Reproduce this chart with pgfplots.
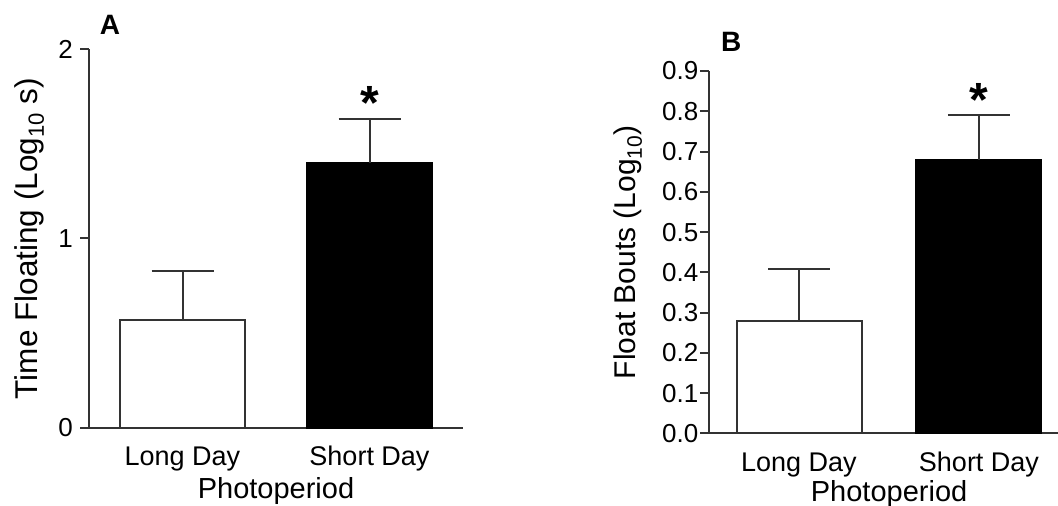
\documentclass[border=0pt]{standalone}
\usepackage{pgfplots}
\pgfplotsset{compat=1.18}
\usepackage{fontspec}
\setmainfont{Liberation Sans}
\definecolor{axgray}{HTML}{333333}

\pgfplotsset{
  panel/.style={
    scale only axis, clip=false,
    axis lines=left,
    axis line style={-, axgray, line width=2pt},
    ytick align=outside, xtick align=inside,
    major tick length=9pt,
    ytick style={axgray, line width=2pt},
    xtick style={draw=none},
    /pgf/number format/assume math mode=true,
    yticklabel style={font=\fontsize{26}{26}\selectfont, anchor=east, inner sep=0pt},
    xticklabel style={font=\fontsize{27}{27}\selectfont, anchor=base, yshift=-28.5pt},
    xtick={1,3},
    xticklabels={Long Day, Short Day},
    ybar, bar width=125pt,
  },
  errs/.style={
    error bars/.cd, y dir=plus, y explicit,
    error bar style={axgray, line width=2pt},
    error mark options={axgray, line width=2pt, mark size=31pt, rotate=90},
  },
}

\begin{document}
\begin{tikzpicture}[x=1pt,y=1pt]
\path[use as bounding box] (0,0) rectangle (1058,506);

% panel A
\begin{axis}[panel,
  at={(89pt,78pt)}, anchor=south west,
  width=374pt, height=379pt,
  xmin=0, xmax=4, ymin=0, ymax=2,
  ytick={0,1,2},
  yticklabel style={xshift=-7pt},
  ylabel={Time Floating (Log\textsubscript{10} s)},
  every axis y label/.style={at={(axis description cs:-0.160,0.5)}, rotate=90, anchor=center,
    font=\fontsize{31.5}{31.5}\selectfont},
  xlabel={Photoperiod},
  every axis x label/.style={at={(axis description cs:0.5,0)}, anchor=base, yshift=-71pt,
    font=\fontsize{29}{29}\selectfont},
]
\addplot[fill=white, draw=axgray, line width=2pt, bar shift=0pt, errs]
  coordinates {(1,0.57) +- (0,0.26)};
\addplot[fill=black, draw=black, line width=2pt, bar shift=0pt, errs]
  coordinates {(3,1.40) +- (0,0.233)};
\node[font=\bfseries\fontsize{48}{48}\selectfont, anchor=north, inner sep=0pt] at (axis cs:3,1.805) {*};
\node[font=\bfseries\fontsize{28}{28}\selectfont, anchor=center, inner sep=0pt] at (rel axis cs:0.056,1.064) {A};
\end{axis}

% panel B
\begin{axis}[panel,
  at={(709pt,72.5pt)}, anchor=south west,
  width=349pt, height=362.5pt,
  xmin=0, xmax=3.878, ymin=0, ymax=0.9,
  ytick={0,0.1,0.2,0.3,0.4,0.5,0.6,0.7,0.8,0.9},
  yticklabel style={xshift=-1.5pt, /pgf/number format/.cd, fixed, fixed zerofill, precision=1},
  ylabel={Float Bouts (Log\textsubscript{10})},
  every axis y label/.style={at={(axis description cs:-0.232,0.5)}, rotate=90, anchor=center,
    font=\fontsize{30}{30}\selectfont},
  xlabel={Photoperiod},
  every axis x label/.style={at={(axis description cs:0.516,0)}, anchor=base, yshift=-68pt,
    font=\fontsize{29}{29}\selectfont},
]
\addplot[fill=white, draw=axgray, line width=2pt, bar shift=0pt, errs]
  coordinates {(1,0.28) +- (0,0.128)};
\addplot[fill=black, draw=black, line width=2pt, bar shift=0pt, errs]
  coordinates {(3,0.68) +- (0,0.112)};
\node[font=\bfseries\fontsize{48}{48}\selectfont, anchor=north, inner sep=0pt] at (axis cs:3,0.870) {*};
\node[font=\bfseries\fontsize{28}{28}\selectfont, anchor=center, inner sep=0pt] at (rel axis cs:0.064,1.081) {B};
\end{axis}
\end{tikzpicture}
\end{document}
